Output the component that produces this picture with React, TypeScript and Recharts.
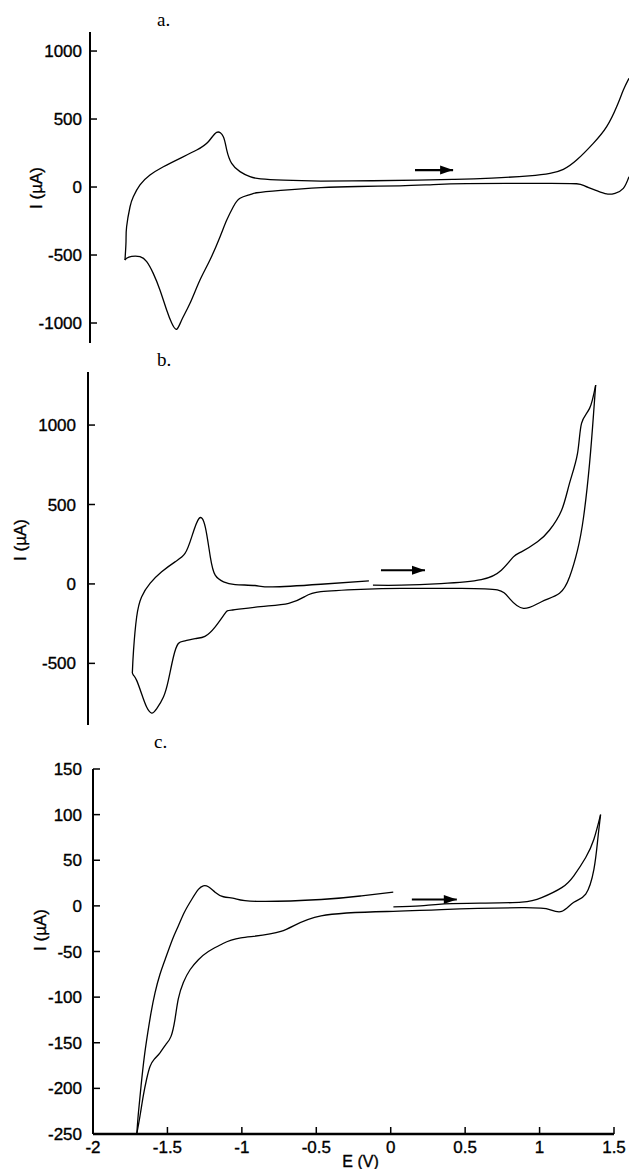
import { LineChart, Line, XAxis, YAxis } from 'recharts';

// cyclic voltammograms, [E (V), I (µA)], one array per scan branch
const aReverse: number[][] = [
  [1.622, 76], [1.584, -10], [1.528, -46], [1.472, -51], [1.405, -27], [1.327, 7], [1.27, 24],
  [1.1, 27], [0.8, 27], [0.531, 25], [0.307, 18], [0.083, 9], [-0.2, 4], [-0.448, -4],
  [-0.718, -24], [-0.88, -42], [-0.925, -56], [-0.992, -83], [-1.037, -145], [-1.081, -243],
  [-1.126, -365], [-1.194, -537], [-1.261, -684], [-1.328, -855], [-1.384, -978], [-1.418, -1046],
  [-1.451, -1000], [-1.485, -904], [-1.53, -757], [-1.575, -635], [-1.619, -549], [-1.664, -512],
  [-1.72, -510], [-1.754, -524], [-1.765, -537],
];
const aForward: number[][] = [
  [-1.765, -537], [-1.758, -400], [-1.754, -292], [-1.731, -145], [-1.709, -71], [-1.664, 15],
  [-1.597, 88], [-1.507, 149], [-1.395, 211], [-1.283, 272], [-1.205, 333], [-1.149, 402],
  [-1.104, 370], [-1.081, 272], [-1.048, 174], [-0.992, 113], [-0.925, 76], [-0.853, 60],
  [-0.7, 50], [-0.448, 44], [-0.1, 46], [0.2, 50], [0.45, 56], [0.7, 66], [0.95, 82],
  [1.091, 100], [1.181, 130], [1.27, 198], [1.382, 321], [1.472, 444], [1.539, 590],
  [1.584, 713], [1.622, 799],
];

const bForward: number[][] = [
  [-0.085, -8], [0.104, -8], [0.372, 2], [0.643, 27], [0.778, 86], [0.859, 170], [0.913, 202],
  [1.021, 265], [1.101, 338], [1.183, 464], [1.236, 633], [1.29, 822], [1.317, 1011],
  [1.371, 1105], [1.412, 1252],
];
const bReverse: number[][] = [
  [1.412, 1252], [1.398, 1074], [1.371, 759], [1.331, 423], [1.29, 213], [1.237, 45],
  [1.169, -59], [1.048, -112], [0.927, -154], [0.832, -91], [0.751, -38], [0.509, -28],
  [0.104, -28], [-0.165, -34], [-0.435, -49], [-0.543, -80], [-0.651, -122], [-0.84, -143],
  [-1.028, -164], [-1.079, -185], [-1.145, -270], [-1.214, -330], [-1.28, -344], [-1.348, -358],
  [-1.393, -375], [-1.426, -460], [-1.46, -607], [-1.493, -712], [-1.538, -785], [-1.572, -813],
  [-1.606, -775], [-1.64, -691], [-1.673, -607], [-1.694, -575], [-1.702, -561],
];
const bReturn: number[][] = [
  [-1.702, -561], [-1.694, -418], [-1.673, -208], [-1.64, -82], [-1.583, 3], [-1.505, 76],
  [-1.415, 139], [-1.348, 192], [-1.303, 296], [-1.254, 412], [-1.212, 359], [-1.178, 170],
  [-1.145, 55], [-1.089, 13], [-1.011, -4], [-0.878, -10], [-0.759, -19], [-0.435, -2],
  [-0.112, 19],
];

const cForward: number[][] = [
  [0.018, -1], [0.198, 0], [0.34, 2], [0.6, 3], [0.88, 4], [1.014, 9], [1.149, 20], [1.23, 33],
  [1.31, 53], [1.365, 73], [1.41, 100],
];
const cReverse: number[][] = [
  [1.41, 100], [1.391, 73], [1.365, 40], [1.31, 13], [1.23, 4], [1.149, -6], [1.068, -4],
  [0.88, -2], [0.34, -4], [0.017, -6], [-0.468, -11], [-0.738, -28], [-1.007, -35],
  [-1.135, -42], [-1.225, -50], [-1.292, -59], [-1.348, -70], [-1.393, -84], [-1.427, -102],
  [-1.449, -124], [-1.476, -143], [-1.511, -152], [-1.55, -161], [-1.588, -168], [-1.617, -176],
  [-1.64, -190], [-1.662, -208], [-1.684, -230], [-1.706, -250],
];
const cReturn: number[][] = [
  [-1.706, -250], [-1.695, -227], [-1.677, -197], [-1.655, -165], [-1.632, -139], [-1.61, -117],
  [-1.583, -95], [-1.55, -75], [-1.516, -59], [-1.467, -37], [-1.427, -22], [-1.386, -7],
  [-1.337, 7], [-1.292, 18], [-1.259, 22], [-1.225, 21], [-1.18, 15], [-1.124, 10],
  [-1.046, 8], [-0.9, 5], [-0.468, 7], [-0.196, 11], [0.017, 15],
];

// scan direction arrows
const arrowA: number[][] = [[0.184, 125], [0.44, 125]];
const arrowB: number[][] = [[-0.031, 86], [0.265, 86]];
const arrowC: number[][] = [[0.142, 7], [0.444, 7]];

const ticksA = [-1000, -500, 0, 500, 1000];
const ticksB = [-500, 0, 500, 1000];
const ticksC = [-250, -200, -150, -100, -50, 0, 50, 100, 150];
const ticksE = [-2, -1.5, -1, -0.5, 0, 0.5, 1, 1.5];

const toPts = (rows: number[][]) => rows.map(([e, i]) => ({ e, i }));

const SANS = 'Liberation Sans, Arial, sans-serif';
const SERIF = 'Liberation Serif, Times New Roman, serif';

const tickFont = { fill: '#000', stroke: '#000', strokeWidth: 0.35, fontSize: 17, fontFamily: SANS };

const yTitle = (cx: number, dy: number) => (props: any) => {
  const vb = props.viewBox;
  const cy = vb.y + vb.height / 2 + dy;
  return (
    <text
      x={cx}
      y={cy}
      transform={`rotate(-90 ${cx} ${cy})`}
      textAnchor="middle"
      dominantBaseline="central"
      fontSize={17}
      fontFamily={SANS}
      fill="#000"
      stroke="#000"
      strokeWidth={0.35}
    >
      I (µA)
    </text>
  );
};

const xTitle = (props: any) => {
  const vb = props.viewBox;
  return (
    <text
      x={vb.x + vb.width / 2 + 7}
      y={vb.y + 33}
      textAnchor="middle"
      fontSize={16}
      fontFamily={SANS}
      fill="#000"
      stroke="#000"
      strokeWidth={0.35}
    >
      E (V)
    </text>
  );
};

const arrowHead = (p: any) => {
  if (p.index !== 1) return <g key={p.key ?? `d${p.index}`} />;
  const { cx, cy } = p;
  return (
    <polygon key={p.key ?? 'head'} points={`${cx},${cy} ${cx - 13},${cy - 4.5} ${cx - 13},${cy + 4.5}`} fill="#000" />
  );
};

interface PanelProps {
  top: number;
  height: number;
  marginTop: number;
  marginBottom: number;
  marginRight: number;
  yWidth: number;
  xDomain: number[];
  yDomain: number[];
  yTicks: number[];
  tickGap: number;
  branches: number[][][];
  arrow: number[][];
  titleX: number;
  titleDy: number;
  showX?: boolean;
}

function Panel(p: PanelProps) {
  return (
    <div style={{ position: 'absolute', left: 0, top: p.top }}>
      <LineChart
        width={629}
        height={p.height}
        margin={{ top: p.marginTop, right: p.marginRight, bottom: p.marginBottom, left: 0 }}
      >
        <XAxis
          type="number"
          dataKey="e"
          domain={p.xDomain}
          allowDataOverflow
          hide={!p.showX}
          ticks={ticksE}
          interval={0}
          height={35}
          tickSize={-7}
          tickMargin={14}
          axisLine={{ stroke: '#000', strokeWidth: 2.5 }}
          tickLine={{ stroke: '#000', strokeWidth: 1.5 }}
          tick={tickFont}
          label={{ content: xTitle }}
        />
        <YAxis
          type="number"
          dataKey="i"
          domain={p.yDomain}
          allowDataOverflow
          ticks={p.yTicks}
          interval={0}
          width={p.yWidth}
          tickSize={-7}
          tickMargin={7 + p.tickGap}
          axisLine={{ stroke: '#000', strokeWidth: 2 }}
          tickLine={{ stroke: '#000', strokeWidth: 1.5 }}
          tick={tickFont}
          label={{ content: yTitle(p.titleX, p.titleDy) }}
        />
        {p.branches.map((b, k) => (
          <Line
            key={k}
            data={toPts(b)}
            dataKey="i"
            type="natural"
            stroke="#000"
            strokeWidth={1.3}
            dot={false}
            activeDot={false}
            isAnimationActive={false}
          />
        ))}
        <Line
          data={toPts(p.arrow)}
          dataKey="i"
          type="linear"
          stroke="#000"
          strokeWidth={2.2}
          dot={arrowHead}
          activeDot={false}
          isAnimationActive={false}
        />
      </LineChart>
    </div>
  );
}

const letterStyle = (left: number, top: number): React.CSSProperties => ({
  position: 'absolute',
  left,
  top,
  fontFamily: SERIF,
  fontSize: 19,
  lineHeight: 1,
  color: '#000',
});

export default function App() {
  return (
    <div style={{ position: 'absolute', left: 0, top: 0, width: 629, height: 1169, background: '#fff', overflow: 'hidden' }}>
      <Panel
        top={0}
        height={350}
        marginTop={32}
        marginBottom={7}
        marginRight={0}
        yWidth={90}
        xDomain={[-2, 1.622]}
        yDomain={[-1147, 1140]}
        yTicks={ticksA}
        tickGap={8}
        branches={[aReverse, aForward]}
        arrow={arrowA}
        titleX={36}
        titleDy={0.5}
      />
      <Panel
        top={350}
        height={385}
        marginTop={22}
        marginBottom={10}
        marginRight={0}
        yWidth={88}
        xDomain={[-2, 1.636]}
        yDomain={[-888, 1334]}
        yTicks={ticksB}
        tickGap={12}
        branches={[bForward, bReverse, bReturn]}
        arrow={arrowB}
        titleX={20}
        titleDy={-8.5}
      />
      <Panel
        top={735}
        height={434}
        marginTop={34}
        marginBottom={0}
        marginRight={15}
        yWidth={93}
        xDomain={[-2, 1.5]}
        yDomain={[-250, 150]}
        yTicks={ticksC}
        tickGap={11}
        branches={[cForward, cReverse, cReturn]}
        arrow={arrowC}
        titleX={40}
        titleDy={-21.5}
        showX
      />
      <div style={letterStyle(157, 10)}>a.</div>
      <div style={letterStyle(157, 350)}>b.</div>
      <div style={letterStyle(154, 732)}>c.</div>
    </div>
  );
}
